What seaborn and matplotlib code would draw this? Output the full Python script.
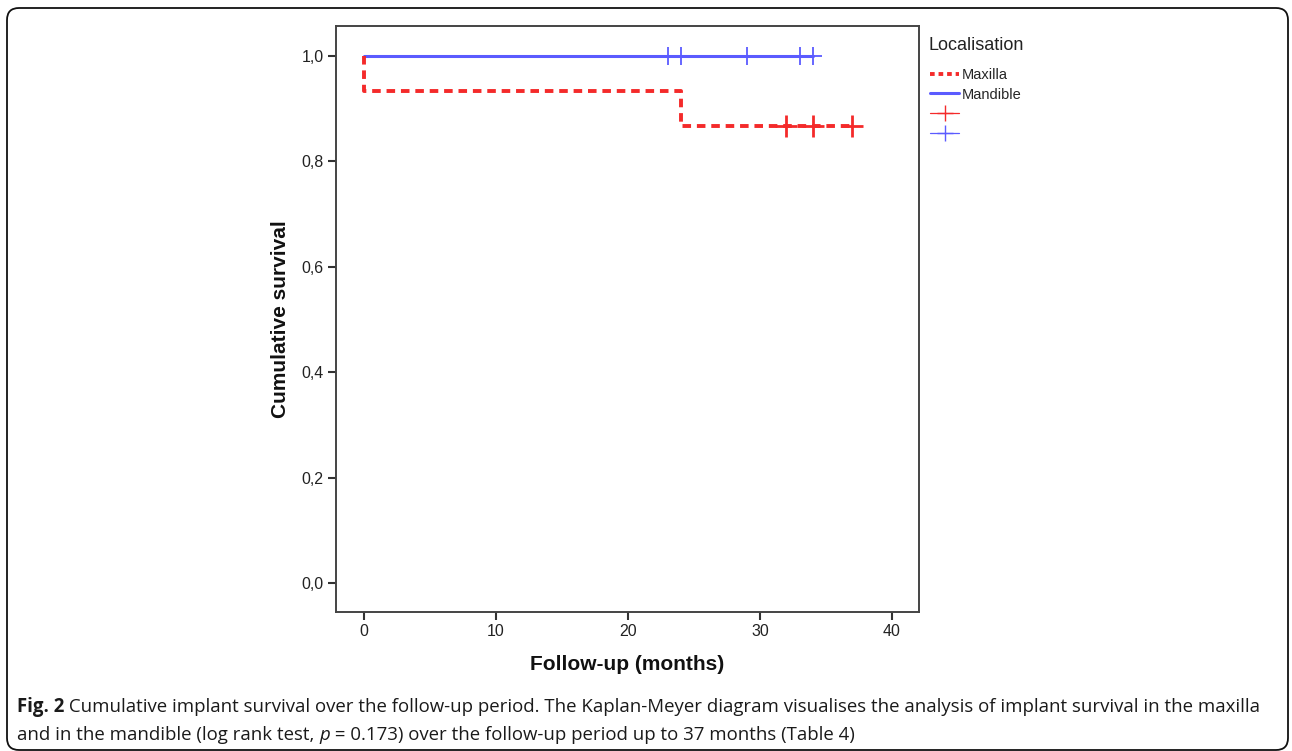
import numpy as np
import pandas as pd
import seaborn as sns
import matplotlib.pyplot as plt
import matplotlib.transforms as mtransforms
from matplotlib.patches import FancyBboxPatch
from matplotlib.lines import Line2D
from matplotlib.ticker import FuncFormatter

# Kaplan-Meier steps (time in months, cumulative survival)
maxilla_time = [0, 0, 24, 37]
maxilla_surv = [1.0, 0.933, 0.867, 0.867]
mandible_time = [0, 34]
mandible_surv = [1.0, 1.0]

# censored observations
maxilla_cens_time = [32, 34, 37]
maxilla_cens_surv = [0.867, 0.867, 0.867]
mandible_cens_time = [23, 24, 29, 33, 34]
mandible_cens_surv = [1.0, 1.0, 1.0, 1.0, 1.0]

groups = ['Maxilla', 'Mandible']
red = '#f42a2a'
blue = '#5b5bff'

x_ticks = [0, 10, 20, 30, 40]
y_ticks = [0.0, 0.2, 0.4, 0.6, 0.8, 1.0]

caption_1 = [('Fig. 2', 'bold', 'normal'),
             (' Cumulative implant survival over the follow-up period. The Kaplan-Meyer diagram visualises the analysis of implant survival in the maxilla', 'normal', 'normal')]
caption_2 = [('and in the mandible (log rank test, ', 'normal', 'normal'),
             ('p', 'normal', 'italic'),
             (' = 0.173) over the follow-up period up to 37 months (Table 4)', 'normal', 'normal')]

df_steps = pd.concat([
    pd.DataFrame({'time': maxilla_time, 'surv': maxilla_surv, 'loc': 'Maxilla'}),
    pd.DataFrame({'time': mandible_time, 'surv': mandible_surv, 'loc': 'Mandible'}),
])
df_cens = pd.concat([
    pd.DataFrame({'time': maxilla_cens_time, 'surv': maxilla_cens_surv, 'loc': 'Maxilla'}),
    pd.DataFrame({'time': mandible_cens_time, 'surv': mandible_cens_surv, 'loc': 'Mandible'}),
])

sns.set_style('white')
plt.rcParams['font.family'] = ['Liberation Sans', 'DejaVu Sans']

fig = plt.figure(figsize=(12.92, 7.51), dpi=100)
ax = fig.add_axes([336 / 1292, 1 - 612 / 751, (919 - 336) / 1292, (612 - 26) / 751])

# step lines
sns.lineplot(data=df_steps[df_steps['loc'] == 'Mandible'], x='time', y='surv',
             estimator=None, sort=False, drawstyle='steps-post',
             color=blue, linewidth=2.2, ax=ax, legend=False)
sns.lineplot(data=df_steps[df_steps['loc'] == 'Maxilla'], x='time', y='surv',
             estimator=None, sort=False, drawstyle='steps-post',
             color=red, linewidth=2.8, dashes=(2.2, 1.5), ax=ax, legend=False)

# censor marks
sns.scatterplot(data=df_cens[df_cens['loc'] == 'Mandible'], x='time', y='surv',
                marker='+', s=180, color=blue, linewidth=1.3, ax=ax, legend=False, zorder=4)
sns.scatterplot(data=df_cens[df_cens['loc'] == 'Maxilla'], x='time', y='surv',
                marker='+', s=230, color=red, linewidth=2.0, ax=ax, legend=False, zorder=4)

ax.set_xlim(-2.12, 42.05)
ax.set_ylim(-0.055, 1.057)
ax.set_xticks(x_ticks)
ax.set_yticks(y_ticks)
ax.yaxis.set_major_formatter(FuncFormatter(lambda v, p: f'{v:.1f}'.replace('.', ',')))
ax.tick_params(axis='both', direction='out', length=6, width=1.5, color='#333333',
               labelsize=11.5, labelcolor='#222222', pad=3)
ax.tick_params(bottom=True, left=True, top=False, right=False)
for sp in ax.spines.values():
    sp.set_visible(True)
    sp.set_color('#444444')
    sp.set_linewidth(1.4)

ax.set_xlabel('Follow-up (months)', fontsize=15, fontweight='bold', labelpad=11, color='#111111')
ax.set_ylabel('Cumulative survival', fontsize=15, fontweight='bold', labelpad=8, color='#111111')

# legend
handles = [
    Line2D([], [], color=red, linewidth=2.8, dashes=(1.2, 1.0)),
    Line2D([], [], color=blue, linewidth=2.2),
    Line2D([], [], color=red, linewidth=0.9, marker='+', markersize=11, markeredgewidth=1.0),
    Line2D([], [], color=blue, linewidth=0.9, marker='+', markersize=11, markeredgewidth=1.0),
]
labels = groups + ['', '']
fig.text(929 / 1292, 1 - 46 / 751, 'Localisation', fontsize=13, color='#222222',
         ha='left', va='center')
leg = fig.legend(handles, labels, loc='upper left',
                 bbox_to_anchor=(930 / 1292, 1 - 68 / 751), frameon=False,
                 fontsize=10.5, handlelength=2.0, handletextpad=0.15,
                 labelspacing=0.38, borderaxespad=0, borderpad=0)

# rounded outer frame
frame = FancyBboxPatch((7, 1), 1281, 742, boxstyle='round,pad=0,rounding_size=12',
                       transform=mtransforms.IdentityTransform(), fill=False,
                       edgecolor='#111111', linewidth=1.3)
fig.patches.append(frame)

# caption with mixed styles
renderer = fig.canvas.get_renderer()
cap_font = ['Liberation Sans Narrow', 'Open Sans', 'DejaVu Sans']


def draw_pieces(x, y, pieces):
    for text, weight, style in pieces:
        t = fig.text(x, y, text, fontsize=13.4, fontweight=weight, fontstyle=style,
                     family=cap_font, color='#1a1a1a', va='baseline', ha='left')
        x += t.get_window_extent(renderer).width / fig.bbox.width


draw_pieces(17 / 1292, 1 - 712 / 751, caption_1)
draw_pieces(17 / 1292, 1 - 740 / 751, caption_2)

fig.savefig('out.png', dpi=100)
